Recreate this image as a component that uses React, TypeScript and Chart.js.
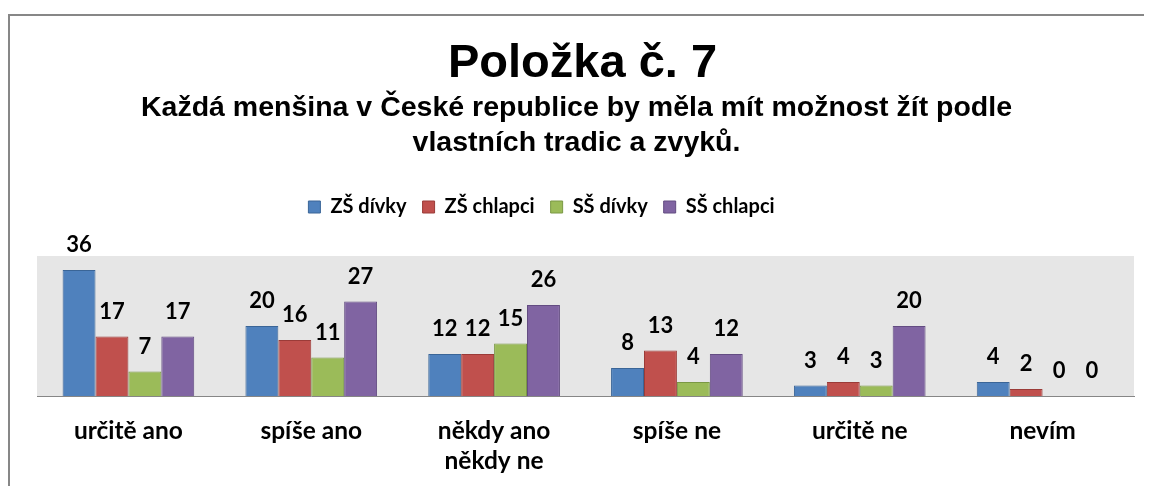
import React, { useEffect, useRef } from "react";
import { Chart, registerables } from "chart.js";

Chart.register(...registerables);

const TITLE = "Položka č. 7";
const SUBTITLE = ["Každá menšina v České republice by měla mít možnost žít podle", "vlastních tradic a zvyků."];
const categories: (string | string[])[] = ["určitě ano", "spíše ano", ["někdy ano", "někdy ne"], "spíše ne", "určitě ne", "nevím"];
const seriesNames = ["ZŠ dívky", "ZŠ chlapci", "SŠ dívky", "SŠ chlapci"];
const zsDivky = [36, 20, 12, 8, 3, 4];
const zsChlapci = [17, 16, 12, 13, 4, 2];
const ssDivky = [7, 11, 15, 4, 3, 0];
const ssChlapci = [17, 27, 26, 12, 20, 0];
const fills = ["#4F81BD", "#C0504D", "#9BBB59", "#8064A2"];
const borders = ["#3A6597", "#9B3B38", "#7A9844", "#634C82"];

const FONT = "Lato, 'Noto Sans', sans-serif";
const LEGEND_SHIFT = 88;
const TITLE_SHIFT = 6;
const SUBTITLE_SHIFT = 18;

const framePlugin = {
  id: "frame",
  afterLayout(chart: any) {
    const shrink = (box: any, by: number) => {
      if (box) {
        box.right -= by;
        box.width -= by;
      }
    };
    shrink(chart.legend, LEGEND_SHIFT);
    shrink(chart.titleBlock, TITLE_SHIFT);
    const sub = chart.boxes.find((b: any) => b !== chart.titleBlock && b.constructor && b.constructor.name === "Title" && b !== chart.titleBlock);
    const subBox = chart.boxes.filter((b: any) => b.options && b.options.text === SUBTITLE)[0] || sub;
    shrink(subBox, SUBTITLE_SHIFT);
  },
  beforeDraw(chart: any) {
    const { ctx, width, height, chartArea } = chart;
    ctx.save();
    ctx.fillStyle = "#ffffff";
    ctx.fillRect(0, 0, width, height);
    ctx.fillStyle = "#878787";
    ctx.fillRect(0, 6, width, 2);
    ctx.fillRect(0, 6, 2, height);
    ctx.fillStyle = "#e6e6e6";
    ctx.fillRect(chartArea.left, chartArea.top, chartArea.right - chartArea.left, chartArea.bottom - chartArea.top);
    ctx.restore();
  },
};

const labelPlugin = {
  id: "valueLabels",
  afterDatasetsDraw(chart: any) {
    const { ctx } = chart;
    ctx.save();
    ctx.font = `bold 22px ${FONT}`;
    ctx.fillStyle = "#000000";
    ctx.textAlign = "center";
    ctx.textBaseline = "alphabetic";
    chart.data.datasets.forEach((ds: any, di: number) => {
      const meta = chart.getDatasetMeta(di);
      meta.data.forEach((bar: any, i: number) => {
        ctx.fillText(String(ds.data[i]), bar.x, bar.y - 18);
      });
    });
    ctx.restore();
  },
};

export default function App() {
  const ref = useRef<HTMLCanvasElement | null>(null);
  useEffect(() => {
    document.body.style.overflow = "hidden";
    document.documentElement.style.overflow = "hidden";
    const values = [zsDivky, zsChlapci, ssDivky, ssChlapci];
    const chart = new Chart(ref.current as HTMLCanvasElement, {
      type: "bar",
      data: {
        labels: categories as any,
        datasets: seriesNames.map((name, i) => ({
          label: name,
          data: values[i],
          backgroundColor: fills[i],
          borderColor: borders[i],
          borderWidth: 1,
          categoryPercentage: 0.72,
          barPercentage: 1,
          xAxisID: "x",
        })),
      },
      options: {
        responsive: false,
        animation: false,
        devicePixelRatio: 1,
        layout: { padding: { left: 29, right: 18, top: 0, bottom: 0 } },
        plugins: {
          title: {
            display: true,
            text: TITLE,
            color: "#000",
            font: { family: "'Liberation Sans', Arial, sans-serif", size: 47, weight: "bold", lineHeight: 1 },
            padding: { top: 33, bottom: 0 },
          },
          subtitle: {
            display: true,
            text: SUBTITLE,
            color: "#000",
            font: { family: "'Liberation Sans', Arial, sans-serif", size: 28.5, weight: "bold", lineHeight: 35 / 28.5 },
            padding: { top: 3, bottom: 20 },
          },
          legend: {
            display: true,
            position: "top",
            labels: {
              color: "#000",
              font: { family: FONT, size: 20, weight: "bold" },
              boxWidth: 12,
              boxHeight: 12,
              padding: 16,
            },
          },
          tooltip: { enabled: false },
        },
        scales: {
          x: {
            position: "bottom",
            grid: { display: false, drawTicks: false },
            border: { display: true, color: "#868686", width: 1 },
            ticks: {
              color: "#000",
              font: { family: FONT, size: 24.5, weight: "bold", lineHeight: 30 / 24.5 },
              padding: 20,
              maxRotation: 0,
              autoSkip: false,
            },
            afterFit: (s: any) => {
              s.height = 90;
            },
          },
          xTop: {
            type: "category",
            position: "top",
            display: true,
            grid: { display: false, drawTicks: false },
            border: { display: false },
            ticks: { display: false },
            afterFit: (s: any) => {
              s.height = 29;
            },
          },
          y: {
            display: false,
            min: 0,
            max: 40,
          },
        },
      } as any,
      plugins: [framePlugin, labelPlugin],
    });
    return () => chart.destroy();
  }, []);
  return <canvas ref={ref} width={1144} height={478} style={{ display: "block", width: 1144, height: 478 }} />;
}
